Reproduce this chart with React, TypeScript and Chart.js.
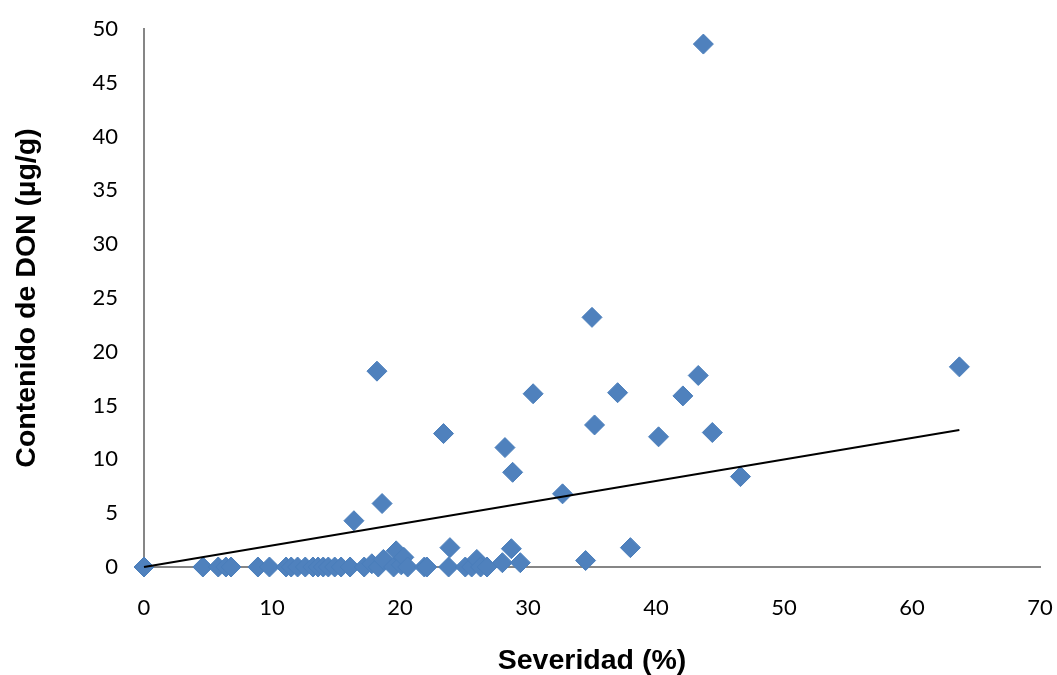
import React, { useEffect, useRef } from "react";
import { Chart, registerables } from "chart.js";

Chart.register(...registerables);

// Severity (%) of each sample
const severity: number[] = [
  0, 4.6, 5.8, 6.4, 6.8, 8.9, 9.8, 11.1, 11.5, 12.0, 12.6, 13.2, 13.6, 14.0, 14.4,
  14.9, 15.4, 16.1, 16.4, 17.2, 17.8, 18.2, 18.3, 18.6, 18.7, 19.5, 19.7, 20.1, 20.3,
  20.6, 21.9, 22.1, 23.4, 23.8, 23.9, 25.1, 25.6, 26.0, 26.3, 26.8, 28.0, 28.2, 28.7,
  28.8, 29.4, 30.4, 32.7, 34.5, 35.0, 35.2, 37.0, 38.0, 40.2, 42.1, 43.3, 43.7, 44.4,
  46.6, 63.7,
];

// DON content (µg/g) of each sample
const don: number[] = [
  0, 0, 0, 0, 0, 0, 0, 0, 0, 0, 0, 0, 0, 0, 0,
  0, 0, 0, 4.3, 0, 0.3, 18.2, 0, 5.9, 0.7, 0, 1.5, 0.2, 0.9,
  0, 0, 0, 12.4, 0, 1.8, 0, 0, 0.7, 0, 0, 0.4, 11.1, 1.7,
  8.8, 0.4, 16.1, 6.8, 0.6, 23.2, 13.2, 16.2, 1.8, 12.1, 15.9, 17.8, 48.6, 12.5,
  8.4, 18.6,
];

// Linear trend line end points
const trendX: number[] = [0, 63.7];
const trendY: number[] = [0, 12.73];

const xTicks: number[] = [0, 10, 20, 30, 40, 50, 60, 70];
const yTicks: number[] = [0, 5, 10, 15, 20, 25, 30, 35, 40, 45, 50];

const xTitle = "Severidad (%)";
const yTitle = "Contenido de DON (µg/g)";

export default function App() {
  const canvasRef = useRef<HTMLCanvasElement | null>(null);

  useEffect(() => {
    if (!canvasRef.current) return;
    const tickFont = { family: "Lato, 'Open Sans', sans-serif", size: 22 };
    const titleFont = { family: "'Liberation Sans', Arial, sans-serif", size: 28.5, weight: "bold" as const, lineHeight: 1.0 };
    const chart = new Chart(canvasRef.current, {
      type: "scatter",
      data: {
        datasets: [
          {
            label: "trend",
            data: trendX.map((x, i) => ({ x, y: trendY[i] })),
            showLine: true,
            borderColor: "#000000",
            borderWidth: 2,
            pointRadius: 0,
            clip: false,
            order: 0,
          },
          {
            label: "DON",
            data: severity.map((x, i) => ({ x, y: don[i] })),
            pointStyle: "rectRot",
            pointRadius: 10,
            backgroundColor: "#4F81BD",
            borderColor: "#4A7EBB",
            borderWidth: 1,
            clip: false,
            order: 1,
          },
        ],
      },
      options: {
        responsive: false,
        animation: false,
        layout: { padding: { top: 29, right: 17, left: 0, bottom: 0 } },
        plugins: { legend: { display: false }, tooltip: { enabled: false } },
        scales: {
          x: {
            type: "linear",
            min: 0,
            max: 70,
            afterBuildTicks: (s: any) => { s.ticks = xTicks.map((v) => ({ value: v })); },
            afterFit: (s: any) => { s.height = 108; },
            ticks: { font: tickFont, color: "#000000", padding: 2 },
            grid: { drawOnChartArea: false, drawTicks: true, tickLength: 26, tickColor: "rgba(0,0,0,0)" },
            border: { color: "#868686", width: 2 },
            title: { display: true, text: xTitle, font: titleFont, color: "#000000", padding: 0 },
          },
          y: {
            type: "linear",
            min: 0,
            max: 50,
            afterBuildTicks: (s: any) => { s.ticks = yTicks.map((v) => ({ value: v })); },
            afterFit: (s: any) => { s.width = 144; },
            ticks: { font: tickFont, color: "#000000", padding: 4 },
            grid: { drawOnChartArea: false, drawTicks: true, tickLength: 22, tickColor: "rgba(0,0,0,0)" },
            border: { color: "#868686", width: 2 },
            title: { display: true, text: yTitle, font: { ...titleFont, lineHeight: 1.2 }, color: "#000000", padding: { top: 10, bottom: 0 } },
          },
        },
      },
    });
    return () => chart.destroy();
  }, []);

  return (
    <div style={{ position: "fixed", left: 0, top: 0, width: 1057, height: 675, background: "#fff" }}>
      <canvas ref={canvasRef} width={1057} height={675} style={{ display: "block" }} />
    </div>
  );
}
